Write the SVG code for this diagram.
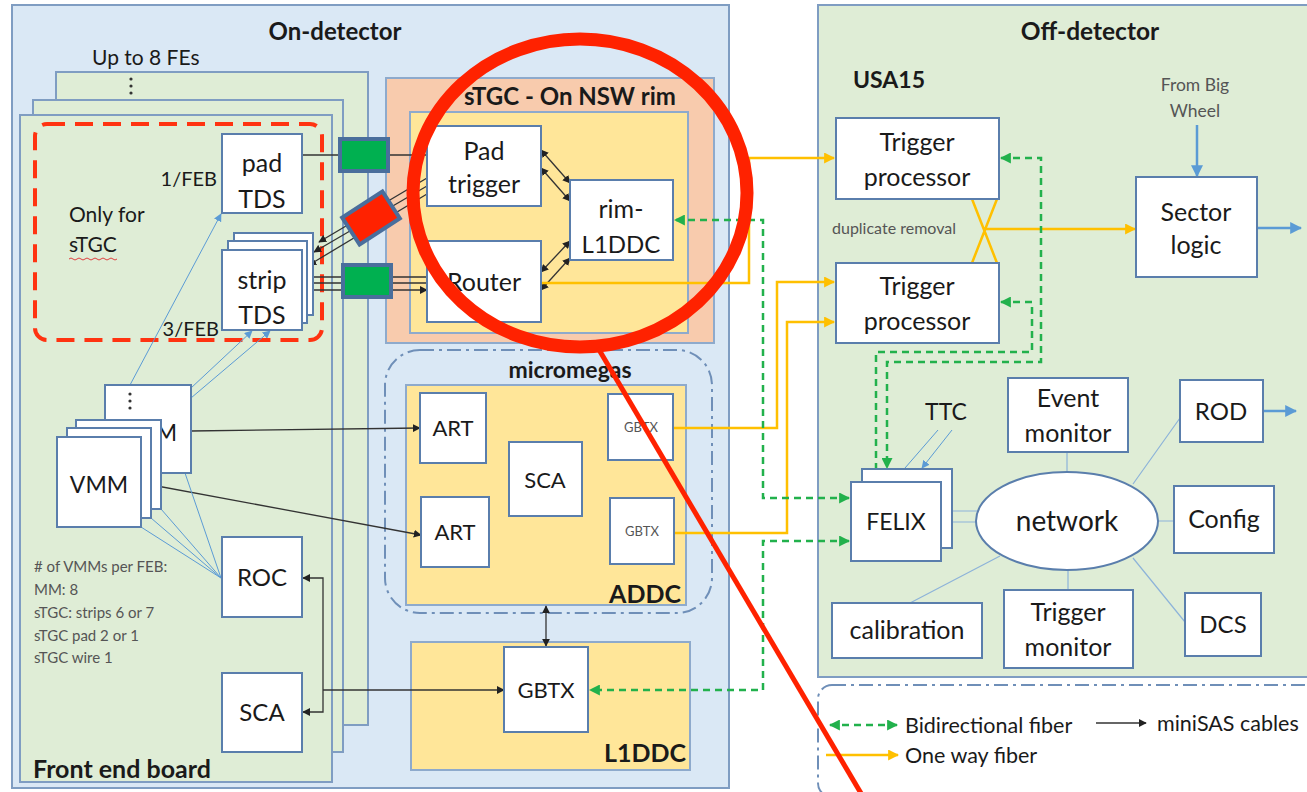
<svg xmlns="http://www.w3.org/2000/svg" width="1307" height="792" viewBox="0 0 1307 792">
<defs>
<style>
text{font-family:Lato,"Open Sans","Liberation Sans",sans-serif;fill:#1a1a1a}
.t{font-size:23px;text-anchor:middle}
.tl{font-size:25px;text-anchor:middle}
.b{font-weight:bold;font-size:23px}
.bc{font-weight:bold;font-size:24px;text-anchor:middle}
.g{fill:#555;font-size:15px}
.box{fill:#fff;stroke:#5a7eac;stroke-width:2}
.cont{stroke:#7f9dc2;stroke-width:2}
.blk{stroke:#333;stroke-width:1.3;fill:none}
.blu{stroke:#5b9bd5;stroke-width:1;fill:none}
.net{stroke:#8db3d9;stroke-width:1.2;fill:none}
.yel{stroke:#ffc000;stroke-width:2.5;fill:none}
.grn{stroke:#22b14c;stroke-width:2.5;fill:none;stroke-dasharray:7 5}
.bl2{stroke:#5b9bd5;stroke-width:2.5;fill:none}
.dd{fill:none;stroke:#6f8fb8;stroke-width:2;stroke-dasharray:14 5 3 5}
</style>
<marker id="ak" viewBox="0 0 10 10" refX="9" refY="5" markerWidth="8" markerHeight="8" markerUnits="userSpaceOnUse" orient="auto-start-reverse"><path d="M0,0 L10,5 L0,10 z" fill="#222"/></marker>
<marker id="ay" viewBox="0 0 10 10" refX="9" refY="5" markerWidth="11" markerHeight="11" markerUnits="userSpaceOnUse" orient="auto-start-reverse"><path d="M0,0 L10,5 L0,10 z" fill="#ffc000"/></marker>
<marker id="ag" viewBox="0 0 10 10" refX="9" refY="5" markerWidth="11" markerHeight="11" markerUnits="userSpaceOnUse" orient="auto-start-reverse"><path d="M0,0 L10,5 L0,10 z" fill="#22b14c"/></marker>
<marker id="ab" viewBox="0 0 10 10" refX="9" refY="5" markerWidth="8" markerHeight="8" markerUnits="userSpaceOnUse" orient="auto-start-reverse"><path d="M0,0 L10,5 L0,10 z" fill="#5b9bd5"/></marker>
<marker id="ab2" viewBox="0 0 10 10" refX="9" refY="5" markerWidth="12" markerHeight="12" markerUnits="userSpaceOnUse" orient="auto-start-reverse"><path d="M0,0 L10,5 L0,10 z" fill="#5b9bd5"/></marker>
</defs>
<rect width="1307" height="792" fill="#fff"/>

<!-- containers -->
<g id="on-detector">
<rect x="12" y="5" width="717" height="783" fill="#dae8f5" class="cont"/>
<text x="335" y="40" class="bc">On-detector</text>
</g>
<g id="fe-boards">
<rect x="56" y="72" width="312" height="653" fill="#dfedd6" class="cont"/>
<rect x="33" y="100" width="310" height="652" fill="#dfedd6" class="cont"/>
<rect x="20" y="115" width="312" height="667" fill="#dfedd6" class="cont"/>
<text x="92" y="65" style="font-size:21px">Up to 8 FEs</text>
<circle cx="131" cy="79" r="1.6" fill="#333"/><circle cx="131" cy="86" r="1.6" fill="#333"/><circle cx="131" cy="93" r="1.6" fill="#333"/>
<text x="33" y="778" style="font-weight:bold;font-size:25px">Front end board</text>
<rect x="35" y="124" width="287" height="216" rx="12" fill="none" stroke="#ff3311" stroke-width="4" stroke-dasharray="18 10"/>
<text x="69" y="222" style="font-size:21px">Only for</text>
<text x="69" y="252" style="font-size:21px">sTGC</text>
<path d="M69,259 q2,-2 4,0 t4,0 t4,0 t4,0 t4,0 t4,0 t4,0 t4,0 t4,0 t4,0 t4,0 t4,0" fill="none" stroke="#e04040" stroke-width="1"/>
<text x="217" y="186" style="font-size:20px;text-anchor:end">1/FEB</text>
<text x="219" y="336" style="font-size:20px;text-anchor:end">3/FEB</text>
<text x="34" y="572" class="g">
<tspan x="34" y="572"># of VMMs per FEB:</tspan>
<tspan x="34" y="595">MM: 8</tspan>
<tspan x="34" y="618">sTGC: strips 6 or 7</tspan>
<tspan x="34" y="641">sTGC pad 2 or 1</tspan>
<tspan x="34" y="663">sTGC wire 1</tspan>
</text>
</g>
<g id="stgc-rim">
<rect x="386" y="78" width="328" height="265" fill="#f8cbad" stroke="#8eaacc" stroke-width="2"/>
<rect x="410" y="112" width="278" height="221" fill="#ffe699" stroke="#8eaacc" stroke-width="2"/>
<text x="570" y="105" class="bc">sTGC - On NSW rim</text>
</g>
<g id="micromegas">
<rect x="385" y="350" width="327" height="263" rx="35" class="dd"/>
<text x="570" y="378" class="bc" style="font-size:23px">micromegas</text>
<rect x="406" y="385" width="280" height="220" fill="#ffe699" stroke="#8eaacc" stroke-width="2"/>
<text x="681" y="603" style="font-weight:bold;font-size:25px;text-anchor:end">ADDC</text>
</g>
<g id="l1ddc">
<rect x="411" y="642" width="279" height="128" fill="#ffe699" stroke="#8eaacc" stroke-width="2"/>
<text x="686" y="762" style="font-weight:bold;font-size:25px;text-anchor:end">L1DDC</text>
</g>
<g id="off-detector">
<rect x="818" y="5" width="500" height="672" fill="#dfedd6" class="cont"/>
<text x="1090" y="40" class="bc" style="font-size:24.5px">Off-detector</text>
<text x="853" y="88" class="b">USA15</text>
<text x="1195" y="91" style="font-size:17.5px;text-anchor:middle;fill:#555">From Big</text>
<text x="1195" y="117" style="font-size:17.5px;text-anchor:middle;fill:#555">Wheel</text>
<text x="832" y="234" style="font-size:16px;fill:#555">duplicate removal</text>
<text x="946" y="420" class="t" style="font-size:23px">TTC</text>
</g>
<g id="legend">
<rect x="818" y="685" width="500" height="112" rx="14" fill="#efefef" class="dd"/>
<path d="M830,725 L897,725" class="grn" marker-start="url(#ag)" marker-end="url(#ag)"/>
<text x="905" y="733" style="font-size:21.5px">Bidirectional fiber</text>
<path d="M1096,723 L1146,723" class="blk" marker-end="url(#ak)"/>
<text x="1157" y="731" style="font-size:21.5px">miniSAS cables</text>
<path d="M826,755 L898,755" class="yel" marker-end="url(#ay)"/>
<text x="905" y="763" style="font-size:21.5px">One way fiber</text>
</g>

<!-- connectors -->
<g id="connectors">
<path d="M302,155 L427,155" class="blk"/>
<path d="M313,277 L427,277 M313,283 L427,283 M313,290 L427,290" class="blk" marker-end="url(#ak)"/>
<path d="M427,178 L319,242" class="blk" marker-end="url(#ak)"/>
<path d="M427,186 L314,252" class="blk" marker-end="url(#ak)"/>
<path d="M427,194 L309,265" class="blk" marker-end="url(#ak)"/>
<path d="M541,150 L570,183" class="blk" marker-start="url(#ak)" marker-end="url(#ak)"/>
<path d="M541,168 L570,201" class="blk" marker-start="url(#ak)" marker-end="url(#ak)"/>
<path d="M541,272 L570,241" class="blk" marker-start="url(#ak)" marker-end="url(#ak)"/>
<path d="M541,290 L570,258" class="blk" marker-start="url(#ak)" marker-end="url(#ak)"/>
<path d="M191,431 L420,428" class="blk" marker-end="url(#ak)"/>
<path d="M141,483 L421,535" class="blk" marker-end="url(#ak)"/>
<path d="M323,645 L323,578 L303,578" class="blk" marker-end="url(#ak)"/>
<path d="M323,645 L323,712 L303,712" class="blk" marker-end="url(#ak)"/>
<path d="M323,690 L504,690" class="blk" marker-end="url(#ak)"/>
<path d="M546,606 L546,646" class="blk" marker-start="url(#ak)" marker-end="url(#ak)"/>

<path d="M130,385 L221,214" class="blu" marker-end="url(#ab)"/>
<path d="M191,388 L252,331" class="blu" marker-end="url(#ab)"/>
<path d="M191,398 L270,331" class="blu" marker-end="url(#ab)"/>
<path d="M141,527 L221,578 M151,518 L221,578 M161,509 L221,578 M185,473 L221,578" class="blu"/>

<path d="M541,283 L749,283 L749,158 L834,158" class="yel" marker-end="url(#ay)"/>
<path d="M673,428 L777,428 L777,282 L834,282" class="yel" marker-end="url(#ay)"/>
<path d="M674,533 L787,533 L787,322 L834,322" class="yel" marker-end="url(#ay)"/>
<path d="M972,199 L997,263 M997,199 L972,263" class="yel"/>
<path d="M984,229 L1135,229" class="yel" marker-end="url(#ay)"/>

<path d="M849,498 L763,498 L763,220 L675,220" class="grn" marker-start="url(#ag)" marker-end="url(#ag)"/>
<path d="M849,541 L763,541 L763,690 L590,690" class="grn" marker-start="url(#ag)" marker-end="url(#ag)"/>
<path d="M1001,158 L1041,158 L1041,362 L887,362 L887,468" class="grn" marker-start="url(#ag)" marker-end="url(#ag)"/>
<path d="M1001,302 L1032,302 L1032,352 L876,352 L876,481" class="grn" marker-start="url(#ag)" marker-end="url(#ag)"/>

<path d="M1197,125 L1197,176" class="bl2" marker-end="url(#ab2)"/>
<path d="M1257,228 L1301,228" class="bl2" marker-end="url(#ab2)"/>
<path d="M1263,411 L1296,411" class="bl2" marker-end="url(#ab2)"/>
<path d="M938,430 L905,468" class="blu"/>
<path d="M952,430 L922,468" class="blu" marker-end="url(#ab)"/>

<path d="M941,511 L978,511 M952,522 L976,522" class="net"/>
<path d="M1067,452 L1067,472 M1133,484 L1180,418 M1158,521 L1174,521 M1133,558 L1185,622 M1068,570 L1068,590 M1000,556 L910,603" class="net"/>

<rect x="340" y="139" width="48" height="32" fill="#00b050" stroke="#4a6e9c" stroke-width="4"/>
<rect x="347" y="202" width="48" height="32" fill="#ff2200" stroke="#4a6e9c" stroke-width="4" transform="rotate(-33 371 218)"/>
<rect x="343" y="265" width="48" height="32" fill="#00b050" stroke="#4a6e9c" stroke-width="4"/>
</g>

<!-- nodes -->
<g id="pad-tds"><rect x="222" y="134" width="80" height="79" class="box"/><text x="262" y="172" class="tl">pad</text><text x="262" y="208" class="tl">TDS</text></g>
<g id="strip-tds">
<rect x="234" y="233" width="79" height="82" class="box"/>
<rect x="228" y="241" width="79" height="82" class="box"/>
<rect x="222" y="250" width="80" height="80" class="box"/>
<text x="262" y="289" class="tl">strip</text><text x="262" y="324" class="tl">TDS</text></g>
<g id="vmm">
<rect x="105" y="385" width="86" height="88" class="box"/>
<circle cx="130" cy="394" r="1.6" fill="#333"/><circle cx="130" cy="401" r="1.6" fill="#333"/><circle cx="130" cy="408" r="1.6" fill="#333"/>
<text x="148" y="441" class="t">VMM</text>
<rect x="76" y="420" width="85" height="89" class="box"/>
<rect x="67" y="428" width="84" height="90" class="box"/>
<rect x="57" y="437" width="84" height="90" class="box"/>
<text x="99" y="493" class="t">VMM</text></g>
<g id="roc"><rect x="222" y="537" width="80" height="80" class="box"/><text x="262" y="586" class="t" style="font-size:24px">ROC</text></g>
<g id="fe-sca"><rect x="222" y="673" width="80" height="79" class="box"/><text x="262" y="721" class="t" style="font-size:24px">SCA</text></g>

<g id="pad-trigger"><rect x="427" y="126" width="114" height="80" class="box"/><text x="484" y="160" class="tl">Pad</text><text x="484" y="193" class="tl">trigger</text></g>
<g id="rim-l1ddc"><rect x="570" y="180" width="103" height="80" class="box"/><text x="621" y="218" class="tl">rim-</text><text x="621" y="253" class="t" style="font-size:24px">L1DDC</text></g>
<g id="router"><rect x="427" y="241" width="114" height="81" class="box"/><text x="484" y="291" class="tl">Router</text></g>

<g id="art1"><rect x="420" y="393" width="66" height="70" class="box"/><text x="453" y="436" class="t" style="font-size:22px">ART</text></g>
<g id="art2"><rect x="421" y="497" width="68" height="70" class="box"/><text x="455" y="540" class="t" style="font-size:22px">ART</text></g>
<g id="addc-sca"><rect x="509" y="442" width="73" height="74" class="box"/><text x="545" y="488" class="t" style="font-size:22px">SCA</text></g>
<g id="addc-gbtx1"><rect x="608" y="394" width="65" height="66" class="box"/><text x="641" y="432" class="t" style="font-size:13px;fill:#555">GBTX</text></g>
<g id="addc-gbtx2"><rect x="610" y="498" width="64" height="66" class="box"/><text x="642" y="536" class="t" style="font-size:13px;fill:#555">GBTX</text></g>
<g id="l1ddc-gbtx"><rect x="504" y="647" width="84" height="85" class="box"/><text x="546" y="698" class="t" style="font-size:22px">GBTX</text></g>

<g id="trigger-processor-1"><rect x="836" y="118" width="163" height="81" class="box"/><text x="917" y="151" class="tl">Trigger</text><text x="917" y="186" class="tl">processor</text></g>
<g id="trigger-processor-2"><rect x="836" y="263" width="163" height="80" class="box"/><text x="917" y="295" class="tl">Trigger</text><text x="917" y="330" class="tl">processor</text></g>
<g id="sector-logic"><rect x="1136" y="177" width="121" height="100" class="box"/><text x="1196" y="221" class="tl">Sector</text><text x="1196" y="254" class="tl">logic</text></g>
<g id="felix">
<rect x="862" y="469" width="90" height="79" class="box"/>
<rect x="851" y="482" width="90" height="79" class="box"/>
<text x="896" y="530" class="t">FELIX</text></g>
<g id="network"><ellipse cx="1067" cy="521" rx="91" ry="49" fill="#fff" stroke="#5a7eac" stroke-width="2"/><text x="1067" y="531" class="t" style="font-size:28px">network</text></g>
<g id="event-monitor"><rect x="1008" y="378" width="120" height="74" class="box"/><text x="1068" y="407" class="tl">Event</text><text x="1068" y="442" class="tl">monitor</text></g>
<g id="rod"><rect x="1180" y="380" width="83" height="62" class="box"/><text x="1221" y="420" class="t" style="font-size:24px">ROD</text></g>
<g id="config"><rect x="1174" y="486" width="100" height="67" class="box"/><text x="1224" y="528" class="tl">Config</text></g>
<g id="dcs"><rect x="1185" y="593" width="76" height="63" class="box"/><text x="1223" y="633" class="t" style="font-size:24px">DCS</text></g>
<g id="trigger-monitor"><rect x="1004" y="590" width="129" height="78" class="box"/><text x="1068" y="621" class="tl">Trigger</text><text x="1068" y="656" class="tl">monitor</text></g>
<g id="calibration"><rect x="832" y="603" width="150" height="55" class="box"/><text x="907" y="639" class="tl">calibration</text></g>

<!-- highlight overlay -->
<g id="highlight">
<ellipse cx="580" cy="193" rx="167" ry="154" fill="none" stroke="#ff2200" stroke-width="13"/>
<path d="M598,348 L862,795" stroke="#ff2200" stroke-width="5" fill="none"/>
</g>
</svg>
